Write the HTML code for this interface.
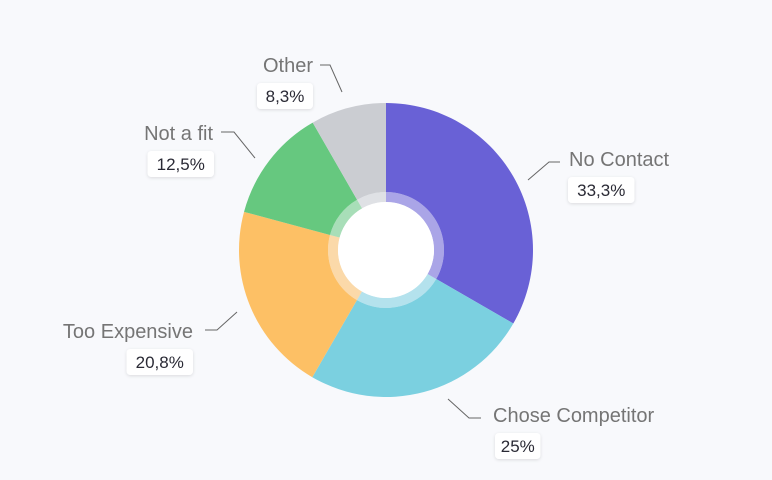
<!DOCTYPE html>
<html><head><meta charset="utf-8"><style>
body{margin:0;background:#f8f9fc;}
svg{display:block;font-family:"Liberation Sans",sans-serif;}
</style></head><body>
<svg id="chart" width="772" height="480" viewBox="0 0 772 480">
<defs><filter id="sh" x="-20%" y="-30%" width="140%" height="160%"><feDropShadow dx="0" dy="1" stdDeviation="1.5" flood-color="#000" flood-opacity="0.12"/></filter></defs>
<g id="slices"></g><g id="labels"></g>
</svg>
<script>
const categories=["No Contact","Chose Competitor","Too Expensive","Not a fit","Other"];
const values=[33.3,25,20.8,12.5,8.3];
const valueLabels=["33,3%","25%","20,8%","12,5%","8,3%"];
const colors=["#6961d6","#7bd0e0","#fdc065","#66c87f","#cbcdd2"];
const layout=[
 {line:[[528,180],[549,162],[560,162]],tx:569,ty:166,anchor:"start",bx:568},
 {line:[[448,399],[469,418],[481,418]],tx:493,ty:422,anchor:"start",bx:495},
 {line:[[237,312],[217,330],[205,330]],tx:193,ty:338,anchor:"end",bx:193},
 {line:[[255,158],[234,132],[221,132]],tx:213,ty:140,anchor:"end",bx:214},
 {line:[[342,92],[330,65],[320,65]],tx:313,ty:72,anchor:"end",bx:313}
];
const NS="http://www.w3.org/2000/svg";
const cx=386,cy=250,R=147,RI=58,RH=48;
const total=values.reduce((a,b)=>a+b,0);
function pt(a,r){return [cx+r*Math.sin(a),cy-r*Math.cos(a)];}
function arc(a0,a1,r0,r1){const l=(a1-a0)>Math.PI?1:0;const p0=pt(a0,r1),p1=pt(a1,r1),p2=pt(a1,r0),p3=pt(a0,r0);
return `M${p0}A${r1},${r1} 0 ${l} 1 ${p1}L${p2}A${r0},${r0} 0 ${l} 0 ${p3}Z`;}
const gs=document.getElementById('slices'),gl=document.getElementById('labels');
let a=0;
values.forEach((v,i)=>{
 const a1=a+v/total*2*Math.PI;
 const p=document.createElementNS(NS,'path');
 p.setAttribute('d',arc(a,a1,RI,R));p.setAttribute('fill',colors[i]);
 
 
 gs.appendChild(p);
 const q=document.createElementNS(NS,'path');
 q.setAttribute('d',arc(a,a1,RH,RI));q.setAttribute('fill',colors[i]);q.setAttribute('opacity','0.55');
 
 
 gs.appendChild(q);
 a=a1;
});
const hole=document.createElementNS(NS,'circle');
hole.setAttribute('cx',cx);hole.setAttribute('cy',cy);hole.setAttribute('r',RH);hole.setAttribute('fill','#fff');


gs.appendChild(hole);
categories.forEach((c,i)=>{
 const L=layout[i];
 const pl=document.createElementNS(NS,'polyline');
 pl.setAttribute('points',L.line.map(p=>p.join(',')).join(' '));
 pl.setAttribute('fill','none');pl.setAttribute('stroke','#666');pl.setAttribute('stroke-width','1');
 
 
 gl.appendChild(pl);
 const t=document.createElementNS(NS,'text');
 t.setAttribute('x',L.tx);t.setAttribute('y',L.ty);t.setAttribute('text-anchor',L.anchor);
 t.setAttribute('font-size','20');t.setAttribute('fill','#757575');t.textContent=c;
 
 
 gl.appendChild(t);
 const w=valueLabels[i].length*10.5+14;
 const bx=L.anchor==="start"?L.bx:L.bx-w;
 const r=document.createElementNS(NS,'rect');
 r.setAttribute('x',bx);r.setAttribute('y',L.ty+11);r.setAttribute('width',w);r.setAttribute('height',26);
 r.setAttribute('rx',4);r.setAttribute('fill','#fff');r.setAttribute('filter','url(#sh)');
 
 
 gl.appendChild(r);
 const vt=document.createElementNS(NS,'text');
 vt.setAttribute('x',bx+w/2);vt.setAttribute('y',L.ty+30);vt.setAttribute('text-anchor','middle');
 vt.setAttribute('font-size','17');vt.setAttribute('fill','#2a2a35');vt.textContent=valueLabels[i];
 
 
 gl.appendChild(vt);
});
</script>
</body></html>
